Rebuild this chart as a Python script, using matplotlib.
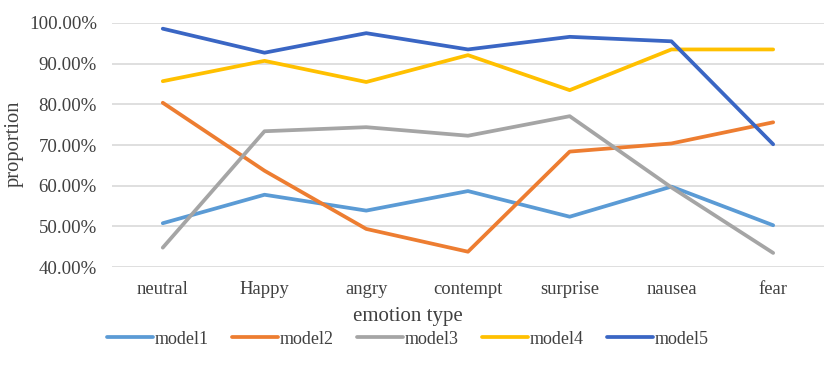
import matplotlib
matplotlib.use("Agg")
import matplotlib.pyplot as plt
from matplotlib.ticker import FuncFormatter

categories = ["neutral", "Happy", "angry", "contempt", "surprise", "nausea", "fear"]
model1 = [50.8, 57.8, 53.9, 58.7, 52.4, 59.8, 50.3]
model2 = [80.4, 63.7, 49.4, 43.8, 68.4, 70.4, 75.6]
model3 = [44.8, 73.4, 74.4, 72.3, 77.1, 59.6, 43.5]
model4 = [85.7, 90.7, 85.5, 92.1, 83.5, 93.5, 93.5]
model5 = [98.6, 92.7, 97.5, 93.5, 96.6, 95.5, 70.2]
series_names = ["model1", "model2", "model3", "model4", "model5"]
colors = ["#5B9BD5", "#ED7D31", "#A5A5A5", "#FFC000", "#3A66C4"]

plt.rcParams['font.family'] = ['Liberation Serif', 'DejaVu Serif']
text_color = "#404040"

fig = plt.figure(figsize=(8.29, 3.65), dpi=100)
ax = fig.add_axes([0.135, 0.268, 0.859, 0.669])

x = list(range(len(categories)))
for name, vals, c in zip(series_names, [model1, model2, model3, model4, model5], colors):
    ax.plot(x, [v / 100 for v in vals], color=c, lw=2.7, label=name, solid_capstyle='round')

ax.set_xlim(-0.5, len(categories) - 0.5)
ax.set_ylim(0.40, 1.00)
ax.set_yticks([0.4, 0.5, 0.6, 0.7, 0.8, 0.9, 1.0])
ax.yaxis.set_major_formatter(FuncFormatter(lambda v, p: f"{v*100:.2f}%"))
ax.set_xticks(x)
ax.set_xticklabels(categories)
ax.grid(axis='y', color='#D9D9D9', lw=1.2)
ax.set_axisbelow(True)
for s in ax.spines.values():
    s.set_visible(False)
ax.tick_params(length=0, colors=text_color)
ax.tick_params(axis='y', labelsize=13.6, pad=10.8)
ax.tick_params(axis='x', labelsize=13.4, pad=10)
ax.set_xlabel("emotion type", fontsize=15, color=text_color, va='center')
ax.xaxis.set_label_coords(0.416, -0.2)
ax.set_ylabel("proportion", fontsize=14.8, color=text_color, va='center')
ax.yaxis.set_label_coords(-0.1376, 0.504)

fig.legend(loc='center', bbox_to_anchor=(0.492, 0.071), ncol=5, frameon=False,
           fontsize=13, handlelength=2.5, handletextpad=0.1, columnspacing=1.33,
           labelcolor=text_color)

fig.savefig("out.png", dpi=100)
